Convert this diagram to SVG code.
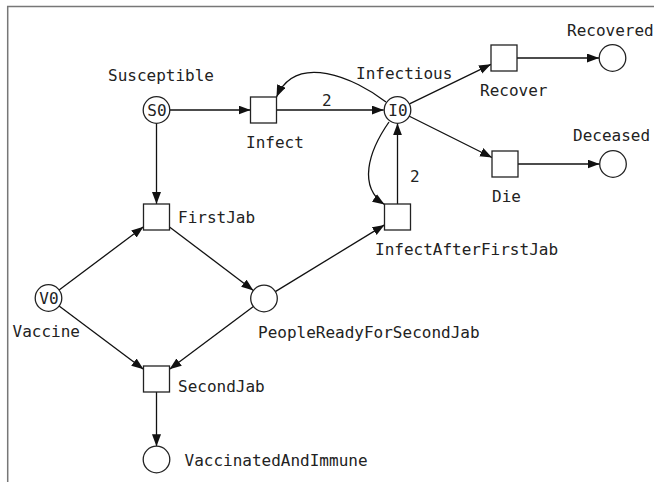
<svg xmlns="http://www.w3.org/2000/svg" width="654" height="482" viewBox="0 0 654 482">
<style>
text{font-family:"DejaVu Sans Mono","Liberation Mono",monospace;font-size:16px;fill:#222}
.place{fill:#fff;stroke:#222;stroke-width:1.3}
.trans{fill:#fff;stroke:#222;stroke-width:1.3}
.edge{fill:none;stroke:#111;stroke-width:1.3;marker-end:url(#arr)}
.tok{text-anchor:middle}
</style>
<defs>
<marker id="arr" markerUnits="userSpaceOnUse" markerWidth="13" markerHeight="10" refX="12" refY="4.5" orient="auto">
<path d="M0,0 L12,4.5 L0,9 z" fill="#111"/>
</marker>
</defs>
<rect width="654" height="482" fill="#fff"/>
<path d="M654,6.5 H7.7 V482" fill="none" stroke="#777" stroke-width="1.5"/>
<g id="connectors">
<path class="edge" d="M169.8,110 H250.5"/>
<path class="edge" d="M156.5,123.3 V204"/>
<path class="edge" d="M276.5,110 H383.7"/>
<text x="322" y="106">2</text>
<path class="edge" d="M386,102 C355,78 296,52 276.5,97"/>
<path class="edge" d="M409,104.2 L491,64.3"/>
<path class="edge" d="M408.9,116 L492,157.5"/>
<path class="edge" d="M517,58 H599"/>
<path class="edge" d="M518,164 H599.5"/>
<path class="edge" d="M389,122 C368,152 358,187 384.5,204.5"/>
<path class="edge" d="M397.5,204 V123.3"/>
<text x="410" y="181.5">2</text>
<path class="edge" d="M59.1,290 L143.5,226.8"/>
<path class="edge" d="M59.1,306 L143.5,369.3"/>
<path class="edge" d="M169.5,226.9 L253.4,290.5"/>
<path class="edge" d="M253.4,306.5 L169.5,369.3"/>
<path class="edge" d="M275.3,291.6 L384.5,224.9"/>
<path class="edge" d="M156.5,392 V446.2"/>
</g>
<g id="Susceptible"><circle class="place" cx="156.5" cy="110" r="13.3"/><text class="tok" x="157" y="116">S0</text><text x="108" y="81">Susceptible</text></g>
<g id="Infect"><rect class="trans" x="250.5" y="97" width="26" height="26"/><text x="246" y="147.5">Infect</text></g>
<g id="Infectious"><circle class="place" cx="397.5" cy="110" r="13.3"/><text class="tok" x="398" y="116">I0</text><text x="356" y="79.3">Infectious</text></g>
<g id="Recover"><rect class="trans" x="491" y="45" width="26" height="26"/><text x="480" y="95.5">Recover</text></g>
<g id="Recovered"><circle class="place" cx="612.5" cy="58" r="13.3"/><text x="567" y="36">Recovered</text></g>
<g id="Die"><rect class="trans" x="492" y="151" width="26" height="26"/><text x="492" y="201.5">Die</text></g>
<g id="Deceased"><circle class="place" cx="613" cy="164" r="13.3"/><text x="573" y="141">Deceased</text></g>
<g id="FirstJab"><rect class="trans" x="143.5" y="204" width="26" height="26"/><text x="178" y="222.5">FirstJab</text></g>
<g id="InfectAfterFirstJab"><rect class="trans" x="384.5" y="204" width="26" height="26"/><text x="375" y="255">InfectAfterFirstJab</text></g>
<g id="Vaccine"><circle class="place" cx="48.5" cy="298" r="13.3"/><text class="tok" x="49" y="304">V0</text><text x="12.5" y="336.7">Vaccine</text></g>
<g id="PeopleReadyForSecondJab"><circle class="place" cx="264" cy="298.5" r="13.3"/><text x="258" y="338">PeopleReadyForSecondJab</text></g>
<g id="SecondJab"><rect class="trans" x="143.5" y="366" width="26" height="26"/><text x="178" y="391.7">SecondJab</text></g>
<g id="VaccinatedAndImmune"><circle class="place" cx="156.5" cy="459.5" r="13.3"/><text x="184.5" y="466">VaccinatedAndImmune</text></g>
</svg>
